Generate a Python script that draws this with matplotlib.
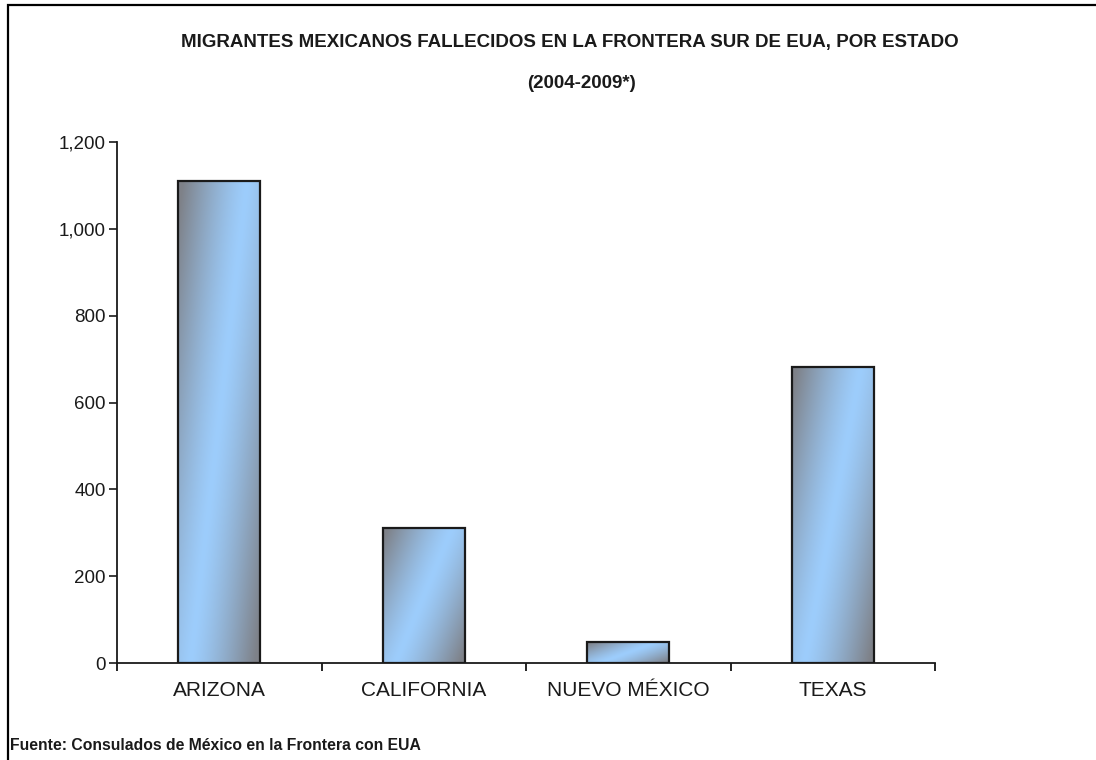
import numpy as np
import matplotlib
matplotlib.use("Agg")
import matplotlib.pyplot as plt
from matplotlib.patches import Rectangle
from matplotlib.ticker import FuncFormatter, FixedLocator
from matplotlib.colors import to_rgb

states = ["ARIZONA", "CALIFORNIA", "NUEVO MÉXICO", "TEXAS"]
deaths = [1110, 310, 48, 682]
yticks = [0, 200, 400, 600, 800, 1000, 1200]
title = "MIGRANTES MEXICANOS FALLECIDOS EN LA FRONTERA SUR DE EUA, POR ESTADO"
subtitle = "(2004-2009*)"
source = "Fuente: Consulados de México en la Frontera con EUA"

plt.rcParams['font.family'] = ['Liberation Sans', 'DejaVu Sans']

fig = plt.figure(figsize=(10.96, 7.6), dpi=100)
fig.patch.set_facecolor("white")
ax = fig.add_axes([117/1096, 1-663/760, (935-117)/1096, (663-142)/760])

x = np.arange(len(states))
bars = ax.bar(x, deaths, width=0.4, facecolor="none", edgecolor="#1a1a1a",
              linewidth=1.6, zorder=3)

blue = np.array(to_rgb("#9dcdfc"))
gray = np.array(to_rgb("#7e8188"))
nu, nv = 60, 200
u = np.linspace(0, 1, nu)[None, :]
v = np.linspace(1, 0, nv)[:, None]   # row 0 = top
for b in bars:
    c = 0.15 + 0.7 * v
    d = np.clip(np.abs(u - c) / 0.8, 0, 1) ** 1.3
    img = blue[None, None, :] * (1 - d[..., None]) + gray[None, None, :] * d[..., None]
    x0, y0 = b.get_x(), b.get_y()
    w, h = b.get_width(), b.get_height()
    im = ax.imshow(img, extent=[x0, x0 + w, y0, y0 + h], aspect="auto",
                   interpolation="bilinear", zorder=2)
    im.set_clip_path(b)

ax.set_xlim(-0.5, len(states) - 0.5)
ax.set_ylim(0, 1200)
ax.set_yticks(yticks)
ax.yaxis.set_major_formatter(FuncFormatter(lambda val, p: f"{int(val):,}"))
ax.tick_params(axis="y", direction="out", length=6, width=1.2, labelsize=13.5, pad=2,
               colors="#1a1a1a")

ax.xaxis.set_major_locator(FixedLocator(np.arange(-0.5, len(states), 1.0)))
ax.xaxis.set_major_formatter(FuncFormatter(lambda val, p: ""))
ax.set_xticks(x, minor=True)
ax.set_xticklabels(states, minor=True)
ax.tick_params(axis="x", which="major", direction="out", length=6, width=1.2)
ax.tick_params(axis="x", which="minor", length=0, labelsize=15, pad=13,
               colors="#1a1a1a")

for s in ["top", "right"]:
    ax.spines[s].set_visible(False)
for s in ["left", "bottom"]:
    ax.spines[s].set_linewidth(1.3)
    ax.spines[s].set_color("#1a1a1a")
ax.set_facecolor("none")

fig.text(570/1096, 1-43/760, title, ha="center", va="center",
         fontsize=13.5, fontweight="bold", color="#1a1a1a")
fig.text(582/1096, 1-84/760, subtitle, ha="center", va="center",
         fontsize=13.5, fontweight="bold", color="#1a1a1a")
fig.text(10/1096, 1-745/760, source, ha="left", va="center",
         fontsize=11.3, fontweight="bold", color="#1a1a1a")

fig.patches.append(Rectangle((8/1096, -0.05), 1.2, 1 - 5/760 + 0.05,
                             transform=fig.transFigure, fill=False,
                             edgecolor="black", linewidth=1.6))

fig.savefig("out.png", dpi=100)
